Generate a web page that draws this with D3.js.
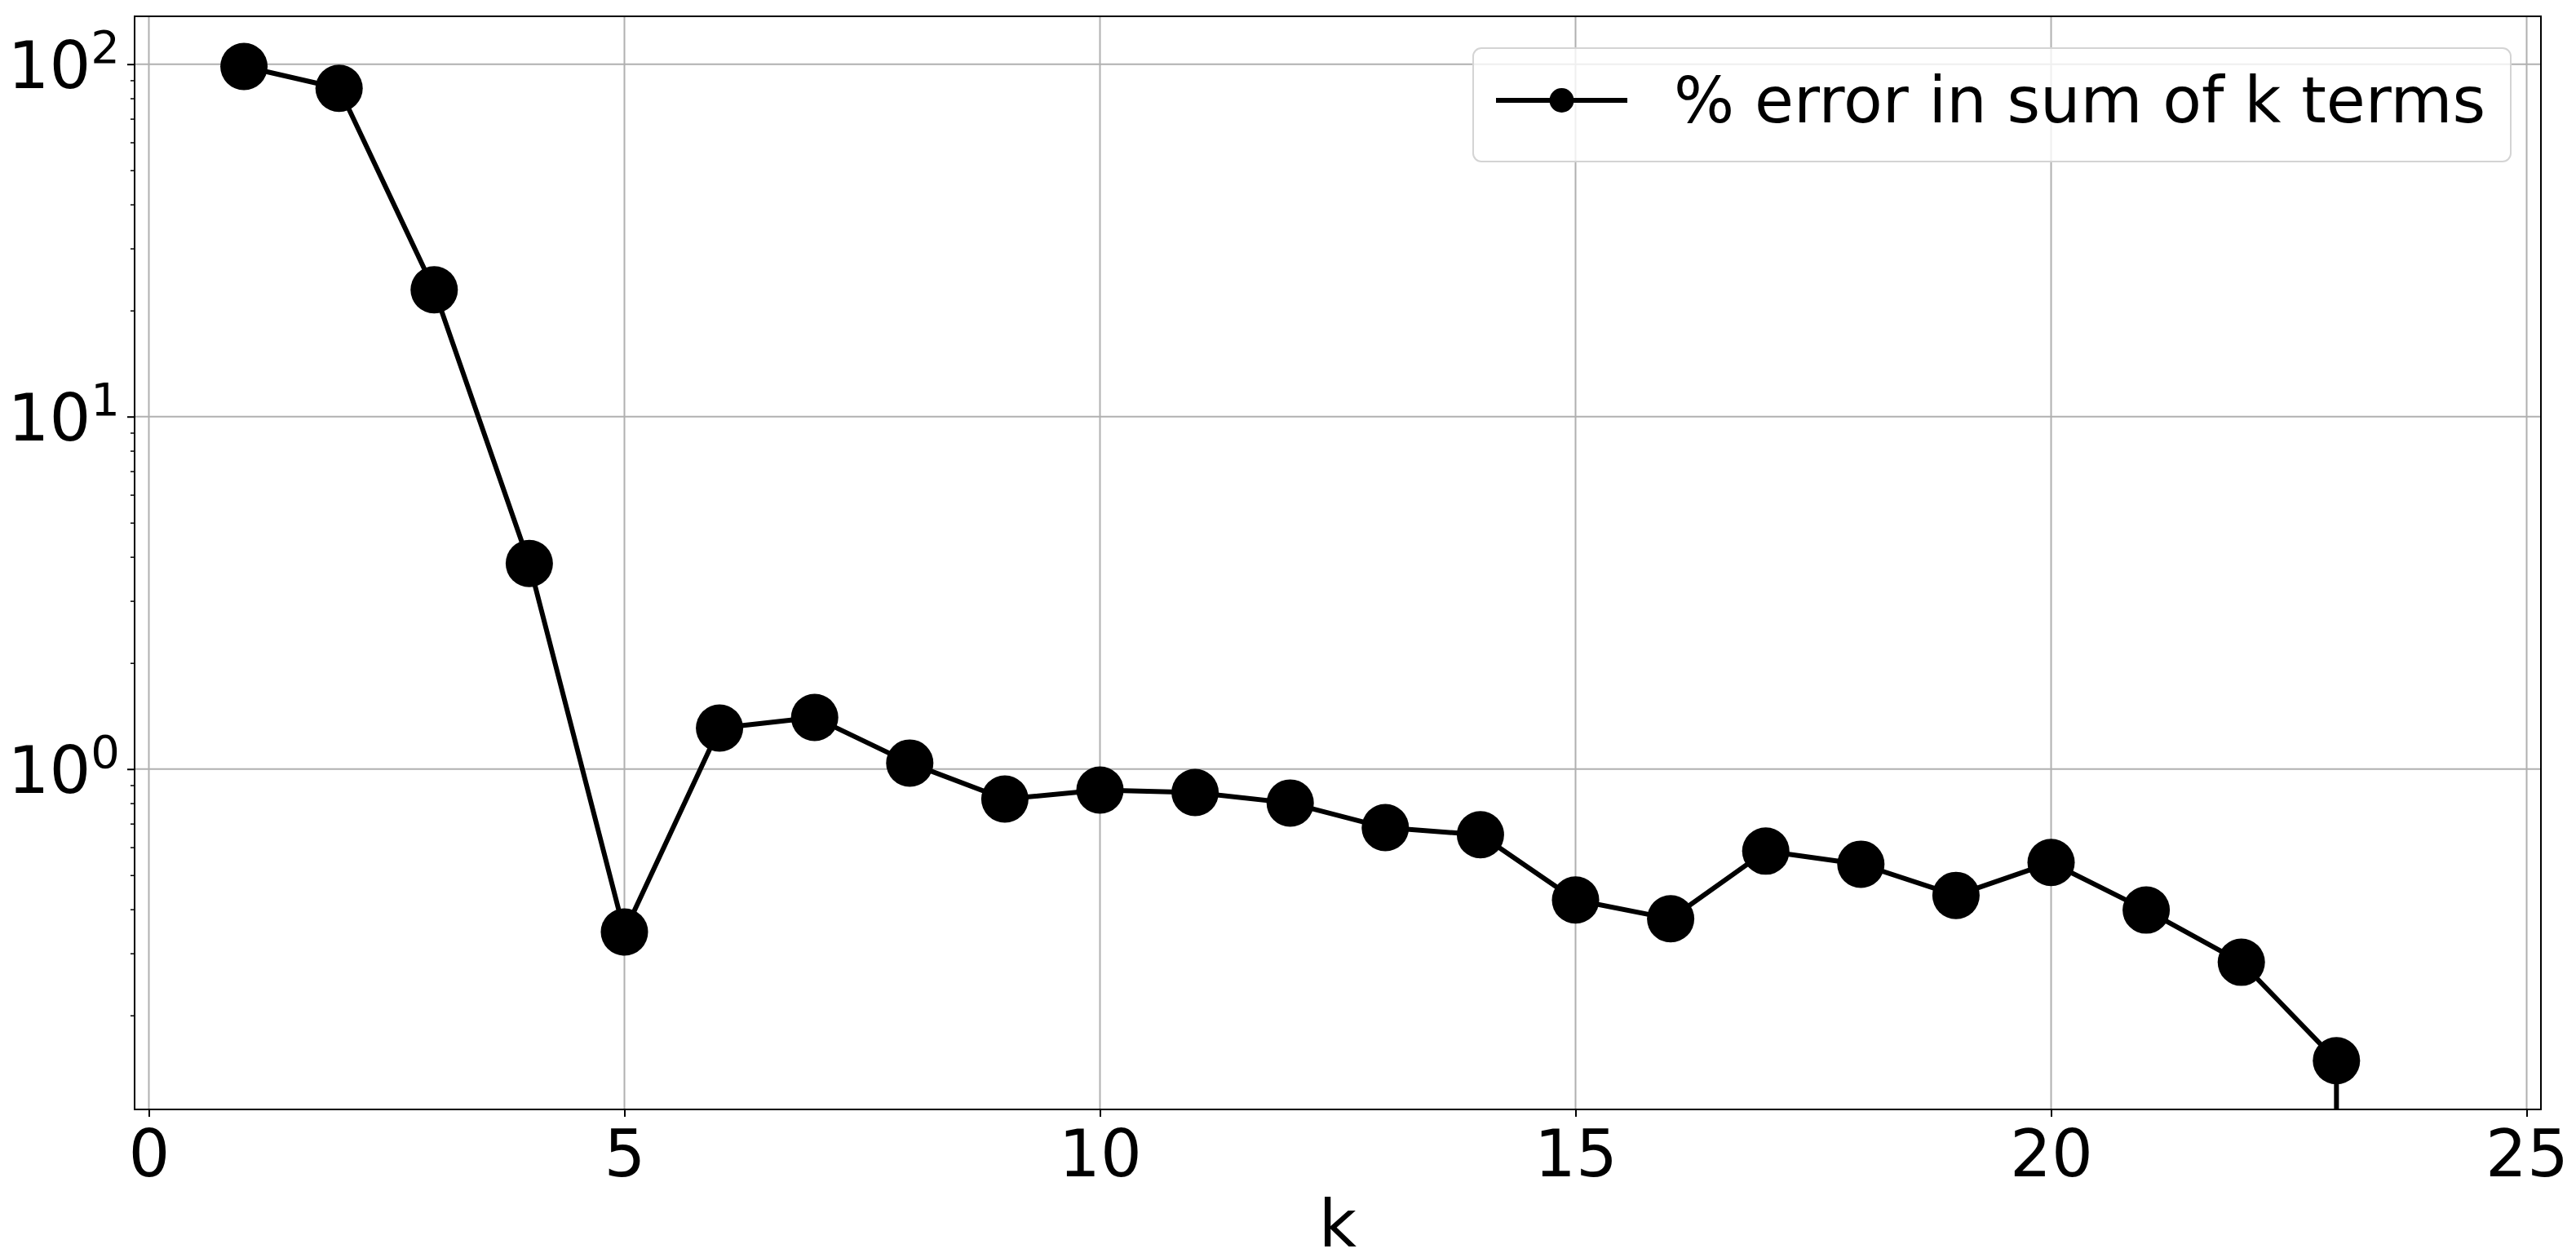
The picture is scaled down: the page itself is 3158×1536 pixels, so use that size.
<!DOCTYPE html>
<html>
<head>
<meta charset="utf-8">
<script src="https://cdn.jsdelivr.net/npm/d3@7"></script>
<style>
  body { margin: 0; background: white; }
  text { font-family: "DejaVu Sans", sans-serif; fill: black; }
</style>
</head>
<body>
<div id="chart"></div>
<script>
// number of terms summed
const kValues = [1, 2, 3, 4, 5, 6, 7, 8, 9, 10, 11, 12, 13, 14, 15, 16, 17, 18, 19, 20, 21, 22, 23, 24];
// % error of the partial sum, the last one is exactly zero (goes off the log axis)
const pctError = [98.5, 85.4, 22.9, 3.83, 0.345, 1.307, 1.401, 1.040, 0.822, 0.872, 0.858, 0.801,
                  0.682, 0.651, 0.425, 0.376, 0.585, 0.537, 0.438, 0.543, 0.398, 0.283, 0.1488, 0];
const xTicks = [0, 5, 10, 15, 20, 25];
const yDecades = [0, 1, 2];
const legendLabel = "% error in sum of k terms";
const xLabel = "k";

let width = 3158,
    height = 1536;

let margin = {
  top: 20,
  bottom: 176,
  left: 165,
  right: 43
};

const data = kValues.map((k, i) => ({ k: k, v: pctError[i] }));

let svg = d3.select('#chart')
            .append('svg')
            .attr('width', width)
            .attr('height', height)
            .style('background', 'white');

const x = d3.scaleLinear()
            .domain([-0.15, 25.15])
            .range([margin.left, width - margin.right]);

const y = d3.scaleLog()
            .domain([0.1082, 136.7])
            .range([height - margin.bottom, margin.top]);

const plotW = width - margin.left - margin.right;
const plotH = height - margin.top - margin.bottom;

svg.append('clipPath')
   .attr('id', 'plotclip')
   .append('rect')
   .attr('x', margin.left)
   .attr('y', margin.top)
   .attr('width', plotW)
   .attr('height', plotH);

// grid
const grid = svg.append('g').attr('stroke', '#b0b0b0').attr('stroke-width', 2);
xTicks.forEach(t => {
  grid.append('line')
      .attr('x1', x(t)).attr('x2', x(t))
      .attr('y1', margin.top).attr('y2', height - margin.bottom);
});
yDecades.forEach(d => {
  grid.append('line')
      .attr('x1', margin.left).attr('x2', width - margin.right)
      .attr('y1', y(Math.pow(10, d))).attr('y2', y(Math.pow(10, d)));
});

// the series, zero gets pushed far below the axis like matplotlib clipping does
const line = d3.line()
               .x(d => x(d.k))
               .y(d => y(d.v > 0 ? d.v : 1e-300));

const plot = svg.append('g').attr('clip-path', 'url(#plotclip)');

plot.append('path')
    .datum(data)
    .attr('d', line)
    .attr('fill', 'none')
    .attr('stroke', 'black')
    .attr('stroke-width', 6)
    .attr('stroke-linejoin', 'round');

plot.selectAll('circle')
    .data(data.filter(d => d.v > 0))
    .enter()
    .append('circle')
    .attr('cx', d => x(d.k))
    .attr('cy', d => y(d.v))
    .attr('r', 29)
    .attr('fill', 'black');

// x axis
let xaxis = svg.append('g')
               .attr('transform', `translate(0, ${height - margin.bottom})`)
               .call(d3.axisBottom(x).tickValues(xTicks).tickSize(9).tickPadding(16).tickFormat(d3.format('d')));
xaxis.select('.domain').remove();
xaxis.selectAll('line').attr('stroke-width', 2);
xaxis.selectAll('text').attr('font-size', 80).style('font-family', '"DejaVu Sans", sans-serif');

// y axis, major ticks
let yaxis = svg.append('g')
               .attr('transform', `translate(${margin.left}, 0)`)
               .call(d3.axisLeft(y).tickValues(yDecades.map(d => Math.pow(10, d))).tickSize(9).tickFormat(''));
yaxis.select('.domain').remove();
yaxis.selectAll('line').attr('stroke-width', 2);

// y axis, minor ticks
const minorTicks = [];
[-1, 0, 1].forEach(e => {
  for (let m = 2; m <= 9; m++) {
    const v = m * Math.pow(10, e);
    if (v >= y.domain()[0] && v <= y.domain()[1]) minorTicks.push(v);
  }
});
let yminor = svg.append('g')
                .attr('transform', `translate(${margin.left}, 0)`)
                .call(d3.axisLeft(y).tickValues(minorTicks).tickSize(5).tickFormat(''));
yminor.select('.domain').remove();
yminor.selectAll('line').attr('stroke-width', 1.5);

// y tick labels as 10^n
yDecades.forEach(d => {
  const lbl = svg.append('text')
                 .attr('x', margin.left - 18)
                 .attr('y', y(Math.pow(10, d)) + 29)
                 .attr('text-anchor', 'end')
                 .attr('font-size', 80);
  lbl.append('tspan').text('10');
  lbl.append('tspan')
     .attr('font-size', 56)
     .attr('dy', -31)
     .text(d);
});

// frame
svg.append('rect')
   .attr('x', margin.left)
   .attr('y', margin.top)
   .attr('width', plotW)
   .attr('height', plotH)
   .attr('fill', 'none')
   .attr('stroke', 'black')
   .attr('stroke-width', 2);

// x label
svg.append('text')
   .attr('x', margin.left + plotW / 2)
   .attr('y', 1528)
   .attr('text-anchor', 'middle')
   .attr('font-size', 80)
   .text(xLabel);

// legend
const legend = svg.append('g');
legend.append('rect')
      .attr('x', 1806)
      .attr('y', 59)
      .attr('width', 1272)
      .attr('height', 139)
      .attr('rx', 10)
      .attr('fill', 'white')
      .attr('fill-opacity', 0.8)
      .attr('stroke', '#d4d4d4')
      .attr('stroke-width', 2);
legend.append('line')
      .attr('x1', 1834).attr('x2', 1995)
      .attr('y1', 123).attr('y2', 123)
      .attr('stroke', 'black')
      .attr('stroke-width', 6);
legend.append('circle')
      .attr('cx', 1914.5)
      .attr('cy', 123)
      .attr('r', 15)
      .attr('fill', 'black');
legend.append('text')
      .attr('x', 2052)
      .attr('y', 150)
      .attr('font-size', 78)
      .text(legendLabel);
</script>
</body>
</html>
